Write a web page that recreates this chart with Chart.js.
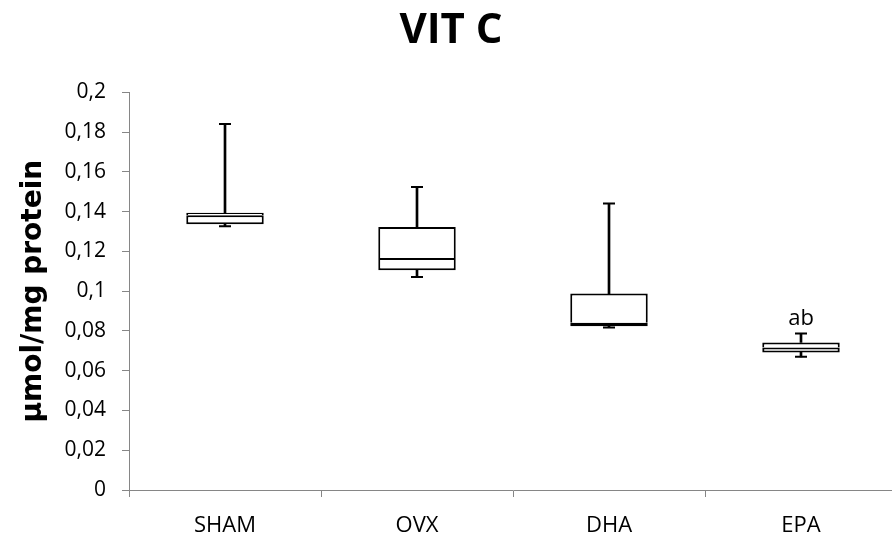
<!DOCTYPE html>
<html>
<head>
<meta charset="utf-8">
<script src="https://cdn.jsdelivr.net/npm/chart.js@4/dist/chart.umd.min.js"></script>
<style>
  html, body { margin: 0; padding: 0; background: #fff; overflow: hidden; }
  #wrap { width: 892px; height: 538px; overflow: hidden; }
</style>
</head>
<body>
<div id="wrap"><canvas id="chartVitC" width="905" height="538"></canvas></div>
<script>
// box plot values (umol/mg protein)
const groups = ['SHAM', 'OVX', 'DHA', 'EPA']
const whiskerMin = [0.1327, 0.1072, 0.0818, 0.0670]
const quart1 = [0.1337, 0.1106, 0.0824, 0.0692]
const median = [0.1382, 0.1167, 0.0841, 0.0717]
const quart3 = [0.1394, 0.1323, 0.0988, 0.0742]
const whiskerMax = [0.1841, 0.1524, 0.1441, 0.0787]
const marks = ['', '', '', 'ab']
const yTickLabels = ['0', '0,02', '0,04', '0,06', '0,08', '0,1', '0,12', '0,14', '0,16', '0,18', '0,2']

const axisGray = '#868686'

// letters over the boxes
const marksPlugin = {
  id: 'marks',
  afterDatasetsDraw(chart) {
    const ctx = chart.ctx
    const x = chart.scales.x
    const y = chart.scales.y
    ctx.save()
    ctx.fillStyle = '#000'
    ctx.font = '22px "Open Sans"'
    ctx.textAlign = 'center'
    ctx.textBaseline = 'alphabetic'
    marks.forEach((m, i) => {
      if (!m) return
      ctx.fillText(m, x.getPixelForValue(i), y.getPixelForValue(whiskerMax[i]) - 9)
    })
    ctx.restore()
  }
}

const boxStyle = {
  backgroundColor: '#fff',
  borderColor: '#000',
  borderSkipped: false,
  barPercentage: 0.4035,
  categoryPercentage: 1,
  grouped: false,
  order: 0
}

const whiskerStyle = {
  backgroundColor: '#000',
  barThickness: 2,
  grouped: false,
  order: 2
}

const capStyle = {
  type: 'line',
  showLine: false,
  pointStyle: 'line',
  pointRadius: 6,
  pointHoverRadius: 6,
  pointBorderWidth: 2,
  borderColor: '#000',
  backgroundColor: '#000',
  order: 1
}

const ctx = document.getElementById('chartVitC')
const myChart = new Chart(ctx, {
  type: 'bar',
  data: {
    labels: groups,
    datasets: [
      { ...whiskerStyle, label: 'upper whisker', data: groups.map((g, i) => [quart3[i], whiskerMax[i]]) },
      { ...whiskerStyle, label: 'lower whisker', data: groups.map((g, i) => [whiskerMin[i], quart1[i]]) },
      { ...capStyle, label: 'max', data: whiskerMax },
      { ...capStyle, label: 'min', data: whiskerMin },
      { ...boxStyle, label: 'q1-median', data: groups.map((g, i) => [quart1[i], median[i]]),
        borderWidth: 2 },
      { ...boxStyle, label: 'median-q3', data: groups.map((g, i) => [median[i], quart3[i]]),
        borderWidth: { left: 2, right: 2, bottom: 0, top: 2 } }
    ]
  },
  options: {
    responsive: false,
    animation: false,
    layout: { padding: { left: 0, right: 3, top: 0, bottom: 0 } },
    plugins: {
      legend: { display: false },
      tooltip: { enabled: false },
      title: {
        display: true,
        text: 'VIT C',
        color: '#000',
        font: { family: '"Open Sans"', size: 42, weight: 'bold' },
        padding: { top: 6, bottom: 36 }
      }
    },
    scales: {
      x: {
        afterFit(scale) { scale.height = 48 },
        grid: { display: true, drawOnChartArea: false, drawTicks: true, tickLength: 7, color: axisGray, offset: true },
        border: { display: true, color: axisGray, width: 1 },
        ticks: { color: '#000', padding: 16, font: { family: '"Open Sans"', size: 22 } }
      },
      y: {
        min: 0,
        max: 0.2,
        afterFit(scale) { scale.width = 129 },
        grid: { display: true, drawOnChartArea: false, drawTicks: true, tickLength: 7, color: axisGray },
        border: { display: true, color: axisGray, width: 1 },
        ticks: {
          stepSize: 0.02,
          color: '#000',
          padding: 16,
          font: { family: '"Open Sans"', size: 21 },
          callback: (v, i) => yTickLabels[i]
        },
        title: {
          display: true,
          text: 'µmol/mg protein',
          color: '#000',
          font: { family: '"DejaVu Sans"', size: 28, weight: 'bold' },
          padding: { top: 17, bottom: 0 }
        }
      }
    }
  },
  plugins: [marksPlugin]
})
</script>
</body>
</html>
